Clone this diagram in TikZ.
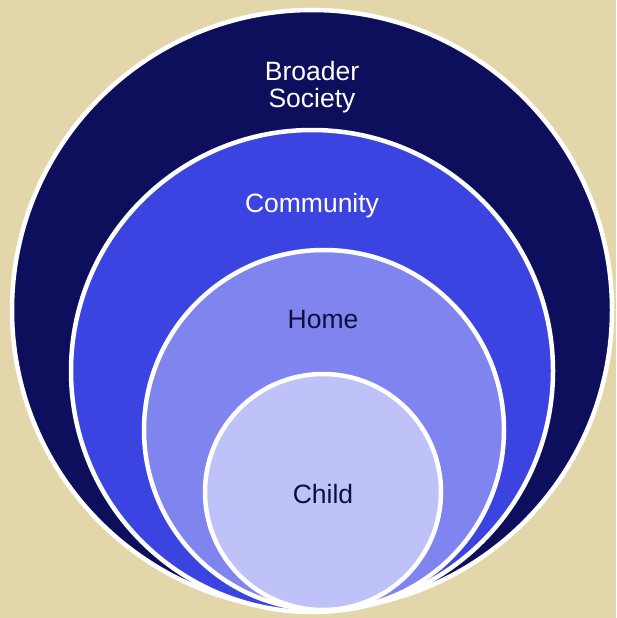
\documentclass[tikz,border=0pt]{standalone}
\usepackage{fontspec}
\setmainfont{Liberation Sans}
\definecolor{bgc}{HTML}{E3D6AA}
\definecolor{c1}{HTML}{0D0F5C}
\definecolor{c2}{HTML}{3B44E0}
\definecolor{c3}{HTML}{7F84EE}
\definecolor{c4}{HTML}{BFC2F8}
\definecolor{darktext}{HTML}{0D0F3C}
\begin{document}
\begin{tikzpicture}[x=1pt,y=-1pt,
  ring/.style={draw=white,line width=4.5pt},
  lbl/.style={font=\fontsize{26.5}{27}\selectfont,align=center}]
\fill[bgc] (0,0) rectangle (616,618);
\useasboundingbox (0,0) rectangle (616,618);
\filldraw[ring,fill=c1] (312,310) circle (300);
\filldraw[ring,fill=c2] (312,371) circle (241);
\filldraw[ring,fill=c3] (324,430) circle (180);
\filldraw[ring,fill=c4] (323,492) circle (118);
\node[lbl,text=white] (broad) at (312,87) {Broader\\Society};
\node[lbl,text=white] (comm) at (312,206) {Community};
\node[lbl,text=darktext] (home) at (323,320) {Home};
\node[lbl,text=darktext] (child) at (323,494) {Child};
\end{tikzpicture}
\end{document}
